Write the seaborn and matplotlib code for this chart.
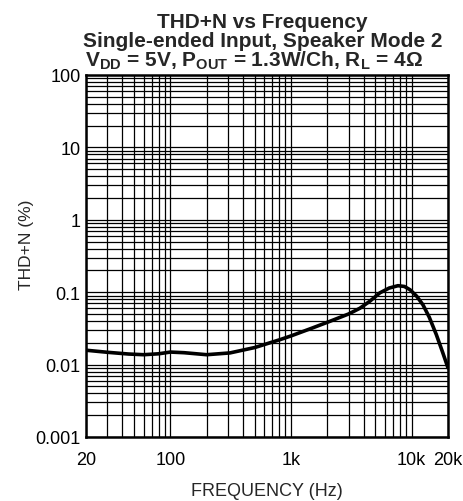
import numpy as np
import pandas as pd
import matplotlib
matplotlib.use("Agg")
import matplotlib.pyplot as plt
import matplotlib.ticker as mticker
import seaborn as sns

# curve (Hz, THD+N %)
freq = [20, 30, 45, 60, 80, 100, 130, 200, 312, 500, 810, 1000,
        1500, 2100, 3000, 3720, 4500, 5450, 6500, 7700, 8700, 9700,
        11000, 12400, 14000, 16000, 18000, 20000]
thd = [0.0158, 0.0148, 0.0140, 0.0137, 0.0141, 0.0149, 0.0146, 0.0137,
       0.0145, 0.0172, 0.0221, 0.0249, 0.0320, 0.0396, 0.0500, 0.0600,
       0.0750, 0.0980, 0.1140, 0.1230, 0.1200, 0.1080, 0.0880, 0.0670,
       0.0450, 0.0260, 0.0150, 0.0090]

x_ticks = [20, 100, 1000, 10000, 20000]
x_labels = ["20", "100", "1k", "10k", "20k"]
y_ticks = [0.001, 0.01, 0.1, 1, 10, 100]
y_labels = ["0.001", "0.01", "0.1", "1", "10", "100"]

df = pd.DataFrame({"freq": freq, "thd": thd})

sns.set_style("white")
plt.rcParams["font.family"] = ["Liberation Sans", "DejaVu Sans"]
plt.rcParams["mathtext.fontset"] = "custom"
plt.rcParams["mathtext.rm"] = "Liberation Sans"
plt.rcParams["mathtext.bf"] = "Liberation Sans:bold"

fig = plt.figure(figsize=(4.64, 5.02), dpi=100)
ax = fig.add_axes([86 / 464, 1 - 438 / 502, 362 / 464, 362 / 502])

sns.lineplot(data=df, x="freq", y="thd", ax=ax, color="black", linewidth=2.6)

ax.set_xscale("log")
ax.set_yscale("log")
ax.set_xlim(20, 20000)
ax.set_ylim(0.001, 100)

ax.xaxis.set_minor_locator(mticker.LogLocator(base=10, subs=np.arange(2, 10)))
ax.yaxis.set_minor_locator(mticker.LogLocator(base=10, subs=np.arange(2, 10)))
ax.xaxis.set_minor_formatter(mticker.NullFormatter())
ax.yaxis.set_minor_formatter(mticker.NullFormatter())
ax.set_xticks(x_ticks)
ax.set_xticklabels(x_labels)
ax.set_yticks(y_ticks)
ax.set_yticklabels(y_labels)
ax.tick_params(which="both", length=0, labelsize=13, colors="black")
ax.tick_params(axis="y", pad=4)
ax.tick_params(axis="x", pad=10)

ax.grid(True, which="both", color="black", linewidth=0.9)
for s in ax.spines.values():
    s.set_color("black")
    s.set_linewidth(1.8)

ax.set_xlabel("FREQUENCY (Hz)", fontsize=13, labelpad=10)
ax.set_ylabel("THD+N (%)", fontsize=12.5)
ax.yaxis.set_label_coords(-0.145, 0.533)

fig.text(0.566, 1 - 28 / 502, "THD+N vs Frequency", ha="center", va="baseline",
         fontsize=15, fontweight="bold")
fig.text(0.566, 1 - 47 / 502, "Single-ended Input, Speaker Mode 2", ha="center",
         va="baseline", fontsize=15, fontweight="bold")
fig.text(0.547, 1 - 67 / 502,
         r"$\mathbf{V_{DD}}$ = 5V, $\mathbf{P_{OUT}}$ = 1.3W/Ch, $\mathbf{R_L}$ = 4Ω",
         ha="center", va="baseline", fontsize=15, fontweight="bold")

fig.savefig("out.png", dpi=100)
